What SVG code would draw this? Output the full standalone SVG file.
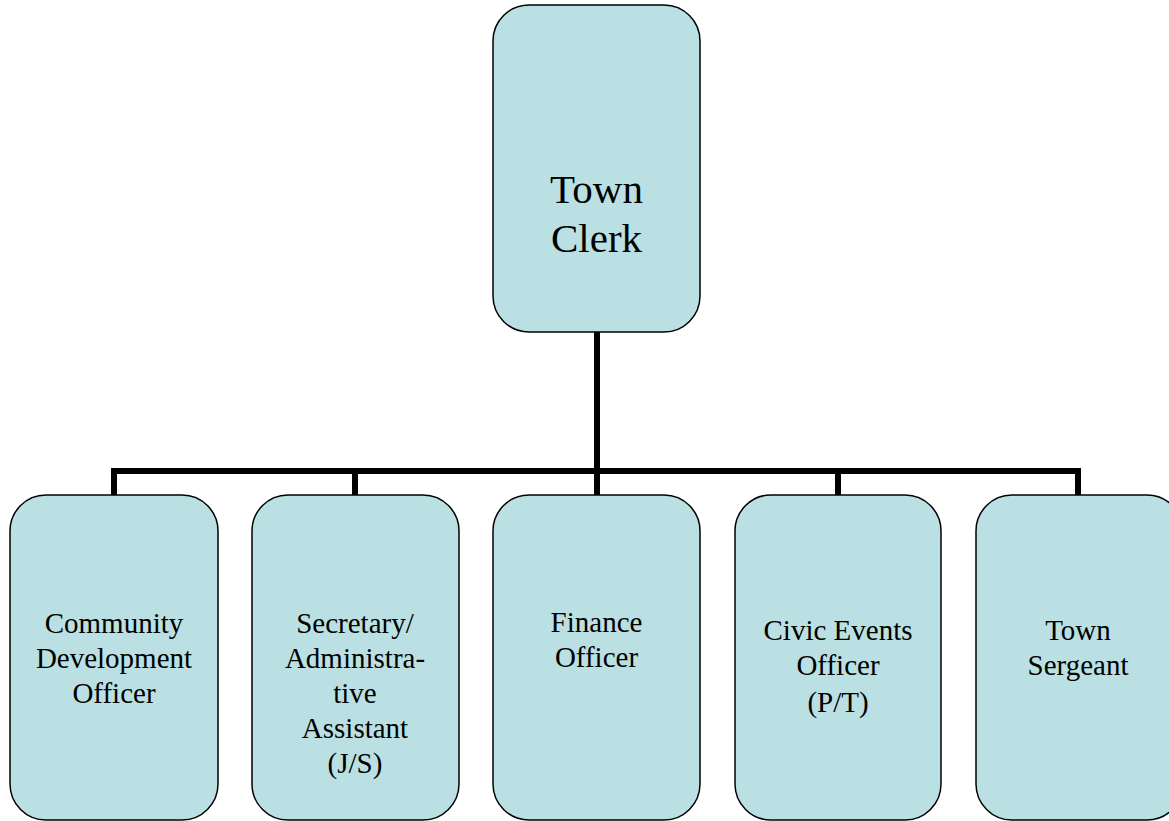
<svg xmlns="http://www.w3.org/2000/svg" width="1169" height="821" viewBox="0 0 1169 821">
<style>
.box{fill:#BBE0E3;stroke:#000;stroke-width:1.5}
.t{font-family:"Liberation Serif","Times New Roman",serif;fill:#000;text-anchor:middle}
.s{font-size:29px}
.big{font-size:41px}
.c{fill:none;stroke:#000;stroke-width:6}
</style>
<rect width="1169" height="821" fill="#fff"/>
<g id="connectors">
<path class="c" d="M597 332V471M114 471H1078M114 468V495M355 468V495M597 468V495M838 468V495M1078 468V495"/>
</g>
<g id="town-clerk">
<rect class="box" x="493" y="5" width="207" height="327" rx="36"/>
<text class="t big" x="596.5" y="203">Town</text>
<text class="t big" x="596.5" y="252">Clerk</text>
</g>
<g id="community-development-officer">
<rect class="box" x="10" y="495" width="208" height="325" rx="36"/>
<text class="t s" x="114" y="633">Community</text>
<text class="t s" x="114" y="668">Development</text>
<text class="t s" x="114" y="703">Officer</text>
</g>
<g id="secretary">
<rect class="box" x="252" y="495" width="207" height="325" rx="36"/>
<text class="t s" x="355" y="633">Secretary/</text>
<text class="t s" x="355" y="668">Administra-</text>
<text class="t s" x="355" y="703">tive</text>
<text class="t s" x="355" y="738">Assistant</text>
<text class="t s" x="355" y="773">(J/S)</text>
</g>
<g id="finance-officer">
<rect class="box" x="493" y="495" width="207" height="325" rx="36"/>
<text class="t s" x="596.5" y="632">Finance</text>
<text class="t s" x="596.5" y="667">Officer</text>
</g>
<g id="civic-events-officer">
<rect class="box" x="735" y="495" width="206" height="325" rx="36"/>
<text class="t s" x="838" y="640">Civic Events</text>
<text class="t s" x="838" y="675">Officer</text>
<text class="t s" x="838" y="712">(P/T)</text>
</g>
<g id="town-sergeant">
<rect class="box" x="976" y="495" width="207" height="325" rx="36"/>
<text class="t s" x="1078" y="640">Town</text>
<text class="t s" x="1078" y="675">Sergeant</text>
</g>
</svg>
